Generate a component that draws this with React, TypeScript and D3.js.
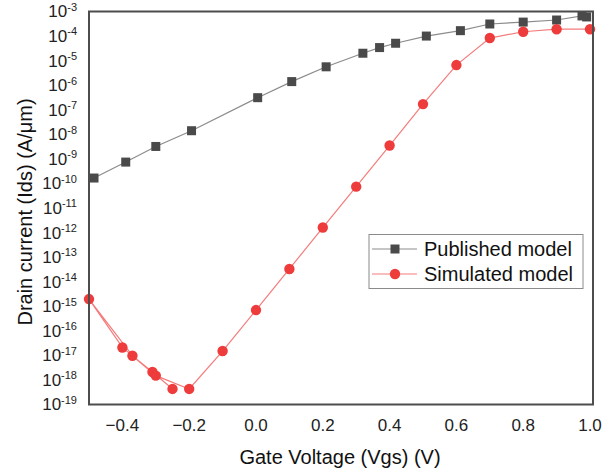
import React, { FC, useMemo } from 'react';
import * as d3 from 'd3';

// Published model (gray squares)
const publishedVgs = [-0.485, -0.39, -0.3, -0.193, 0.005, 0.107, 0.21, 0.32, 0.37, 0.418, 0.51, 0.612, 0.7, 0.8, 0.9, 0.976, 0.99];
const publishedIds = [1.66e-10, 7.4e-10, 3.2e-9, 1.4e-8, 3.1e-7, 1.4e-6, 5.6e-6, 2.0e-5, 3.4e-5, 5.1e-5, 1.0e-4, 1.66e-4, 3.1e-4, 3.7e-4, 4.5e-4, 6.6e-4, 6.0e-4];

// Simulated model (red circles) - kept in the order the points were joined
const simulatedVgs = [-0.25, -0.31, -0.37, -0.5, -0.4, -0.3, -0.2, -0.1, 0.0, 0.1, 0.2, 0.3, 0.4, 0.5, 0.6, 0.7, 0.8, 0.9, 1.0];
const simulatedIds = [4.3e-19, 2.1e-18, 9.7e-18, 1.96e-15, 2.1e-17, 1.5e-18, 4.3e-19, 1.5e-17, 7.0e-16, 3.3e-14, 1.6e-12, 7.4e-11, 3.5e-9, 1.7e-7, 6.6e-6, 8.3e-5, 1.5e-4, 1.9e-4, 1.9e-4];

const xTicks = [-0.4, -0.2, 0.0, 0.2, 0.4, 0.6, 0.8, 1.0];
const yExponents = d3.range(-3, -20, -1);

const seriesNames = ['Published model', 'Simulated model'];

const W = 616;
const H = 474;
const left = 89;
const right = 593;
const top = 11.5;
const bottom = 404.5;
const FONT = 'Arial, "Liberation Sans", Helvetica, sans-serif';

const App: FC = () => {
  const x = useMemo(() => d3.scaleLinear().domain([-0.5, 1.0]).range([left, 590]), []);
  const y = useMemo(() => d3.scaleLog().domain([1e-19, 1e-3]).range([bottom, top]), []);

  const published = publishedVgs.map((v, i) => [v, publishedIds[i]] as [number, number]);
  const simulated = simulatedVgs.map((v, i) => [v, simulatedIds[i]] as [number, number]);

  const line = d3.line<[number, number]>().x(d => x(d[0])).y(d => y(d[1]));
  const sq = 9;

  return (
    <svg width={W} height={H} style={{ position: 'absolute', left: 0, top: 0, background: '#fff' }} fontFamily={FONT}>
      {/* y tick labels */}
      {yExponents.map(e => (
        <text key={e} x={77} y={y(Math.pow(10, e))} dy="0.35em" textAnchor="end" fontSize={17} fill="#222">
          10<tspan dy="-0.6em" fontSize={11}>{e}</tspan>
        </text>
      ))}

      {/* x tick labels */}
      {xTicks.map(t => (
        <text key={t} x={x(t)} y={431} textAnchor="middle" fontSize={17} fill="#222">
          {d3.format('.1f')(t)}
        </text>
      ))}

      {/* data lines */}
      <path d={line(published) || undefined} fill="none" stroke="#8c8c8c" strokeWidth={1.2} />
      <path d={line(simulated) || undefined} fill="none" stroke="#f47c7c" strokeWidth={1.2} />

      {published.map((d, i) => (
        <rect key={i} x={x(d[0]) - sq / 2} y={y(d[1]) - sq / 2} width={sq} height={sq} fill="#4a4a4a" />
      ))}
      {simulated.map((d, i) => (
        <circle key={i} cx={x(d[0])} cy={y(d[1])} r={5.2} fill="#ee3b3b" />
      ))}

      {/* frame */}
      <rect x={left} y={top} width={right - left} height={bottom - top} fill="none" stroke="#4d4d4d" strokeWidth={2} />

      {/* legend */}
      <g>
        <rect x={369} y={234.5} width={214} height={54} fill="#fff" stroke="#8a8a8a" strokeWidth={1} />
        {seriesNames.map((name, i) => {
          const ly = 249 + i * 25;
          return (
            <g key={name}>
              <line x1={372} x2={417} y1={ly} y2={ly} stroke={i === 0 ? '#8c8c8c' : '#f47c7c'} strokeWidth={1.2} />
              {i === 0 ? (
                <rect x={395 - sq / 2} y={ly - sq / 2} width={sq} height={sq} fill="#4a4a4a" />
              ) : (
                <circle cx={395} cy={ly} r={5.2} fill="#ee3b3b" />
              )}
              <text x={424} y={ly} dy="0.36em" fontSize={20} fill="#111">{name}</text>
            </g>
          );
        })}
      </g>

      {/* axis titles */}
      <text x={340} y={464} textAnchor="middle" fontSize={20} fill="#111">Gate Voltage (Vgs) (V)</text>
      <text transform={`translate(32,${212}) rotate(-90)`} textAnchor="middle" fontSize={20} fill="#111">
        Drain current (Ids) (A/μm)
      </text>
    </svg>
  );
};

export default App;
